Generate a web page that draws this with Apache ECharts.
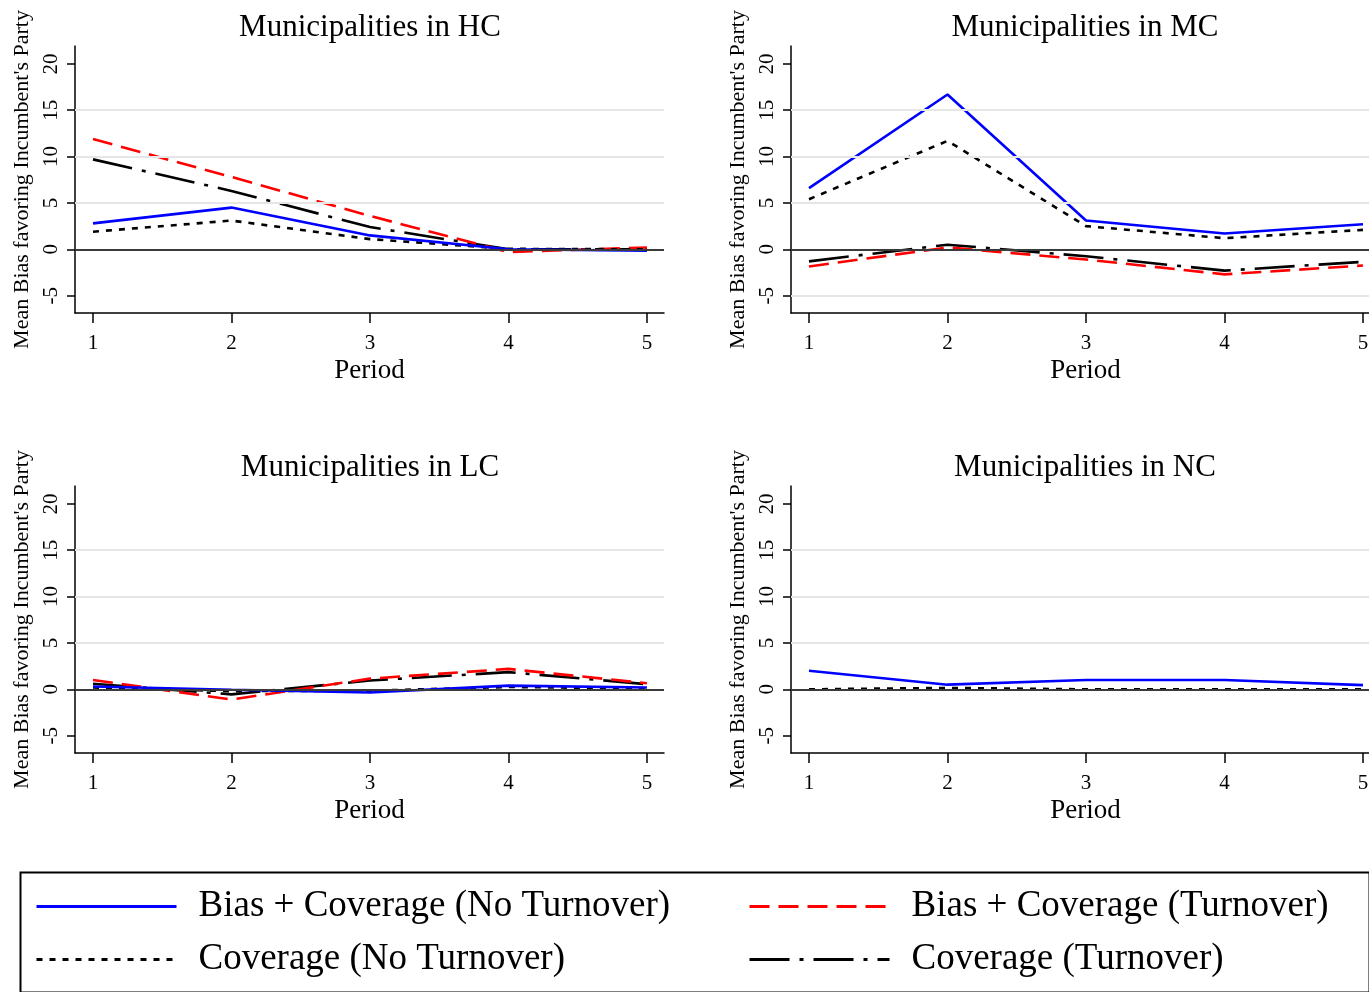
<!DOCTYPE html>
<html>
<head>
<meta charset="utf-8">
<script src="https://cdn.jsdelivr.net/npm/echarts@6/dist/echarts.min.js"></script>
<style>
html,body{margin:0;padding:0;background:#fff;}
#chart{width:1369px;height:992px;}
</style>
</head>
<body>
<div id="chart"></div>
<script>
// ---- data ----
const periods = [1, 2, 3, 4, 5];
const yTicks = [-5, 0, 5, 10, 15, 20];
const panelTitles = ['Municipalities in HC', 'Municipalities in MC', 'Municipalities in LC', 'Municipalities in NC'];
const seriesNames = ['Bias + Coverage (No Turnover)', 'Bias + Coverage (Turnover)', 'Coverage (No Turnover)', 'Coverage (Turnover)'];

// HC
const biasNoTurnHC = [2.8, 4.5, 1.5, 0.0, -0.15];
const biasTurnHC   = [11.9, 7.8, 3.6, -0.3, 0.2];
const covNoTurnHC  = [1.9, 3.1, 1.1, 0.05, 0.0];
const covTurnHC    = [9.7, 6.3, 2.4, 0.0, 0.0];
// MC
const biasNoTurnMC = [6.6, 16.7, 3.1, 1.7, 2.7];
const biasTurnMC   = [-1.85, 0.2, -1.1, -2.7, -1.75];
const covNoTurnMC  = [5.4, 11.7, 2.5, 1.2, 2.1];
const covTurnMC    = [-1.3, 0.5, -0.75, -2.3, -1.35];
// LC
const biasNoTurnLC = [0.3, -0.05, -0.35, 0.4, 0.2];
const biasTurnLC   = [1.0, -1.1, 1.15, 2.2, 0.65];
const covNoTurnLC  = [0.2, -0.2, -0.15, 0.25, 0.1];
const covTurnLC    = [0.6, -0.55, 0.95, 1.85, 0.55];
// NC (no turnover series shown)
const biasNoTurnNC = [2.0, 0.5, 1.0, 1.0, 0.45];
const biasTurnNC   = [null, null, null, null, null];
const covNoTurnNC  = [0.0, 0.15, 0.0, 0.0, 0.0];
const covTurnNC    = [null, null, null, null, null];

// horizontal reference lines per panel
const gridValuesHC = [5, 10, 15];
const gridValuesMC = [-5, 5, 10, 15];
const gridValuesLC = [5, 10, 15];
const gridValuesNC = [5, 10, 15];

// ---- layout ----
const FONT = '"Liberation Serif", "Times New Roman", serif';
const panels = [
  {left: 75, top: 46, title: panelTitles[0], cx: 370, ty: 12,  d: [biasNoTurnHC, biasTurnHC, covNoTurnHC, covTurnHC], g: gridValuesHC},
  {left: 791, top: 46, title: panelTitles[1], cx: 1085, ty: 12, d: [biasNoTurnMC, biasTurnMC, covNoTurnMC, covTurnMC], g: gridValuesMC},
  {left: 75, top: 486, title: panelTitles[2], cx: 370, ty: 452, d: [biasNoTurnLC, biasTurnLC, covNoTurnLC, covTurnLC], g: gridValuesLC},
  {left: 791, top: 486, title: panelTitles[3], cx: 1085, ty: 452, d: [biasNoTurnNC, biasTurnNC, covNoTurnNC, covTurnNC], g: gridValuesNC}
];
const styles = [
  {color: '#0000ff', width: 2.6, type: 'solid'},
  {color: '#ff0000', width: 2.6, type: [20, 9]},
  {color: '#000000', width: 2.6, type: [6, 7]},
  {color: '#000000', width: 2.6, type: [40, 10, 4, 10]}
];
const drawOrder = [3, 1, 2, 0];

const grids = [], xAxes = [], yAxes = [], titles = [], series = [];
panels.forEach((p, i) => {
  grids.push({left: p.left, top: p.top, width: 589, height: 267, outerBoundsMode: 'none', containLabel: false});
  titles.push({text: p.title, left: p.cx, top: p.ty, textAlign: 'center', padding: 0,
    textStyle: {fontFamily: FONT, fontSize: 31, fontWeight: 'normal', color: '#000'}});
  xAxes.push({
    type: 'value', gridIndex: i, min: 0.87, max: 5.123,
    name: 'Period', nameLocation: 'middle', nameGap: 44,
    nameTextStyle: {fontFamily: FONT, fontSize: 27, color: '#000'},
    axisLine: {onZero: false, lineStyle: {color: '#000', width: 1.5}},
    axisTick: {customValues: periods, length: 10, lineStyle: {color: '#000', width: 1.5}},
    axisLabel: {customValues: periods, margin: 20, fontFamily: FONT, fontSize: 21, color: '#000'},
    splitLine: {show: false}
  });
  yAxes.push({
    type: 'value', gridIndex: i, min: -6.87, max: 21.93,
    name: "Mean Bias favoring Incumbent's Party", nameLocation: 'middle', nameGap: 42, nameRotate: 90,
    nameTextStyle: {fontFamily: FONT, fontSize: 22, color: '#000'},
    axisLine: {show: true, lineStyle: {color: '#000', width: 1.5}},
    axisTick: {show: true, customValues: yTicks, length: 8, lineStyle: {color: '#000', width: 1.5}},
    axisLabel: {customValues: yTicks, rotate: 90, margin: 13, fontFamily: FONT, fontSize: 21, color: '#000'},
    splitLine: {show: false}
  });
  series.push({
    type: 'line', name: 'ref' + i, xAxisIndex: i, yAxisIndex: i, data: [], z: 1, silent: true,
    markLine: {
      silent: true, symbol: 'none', label: {show: false}, animation: false,
      data: p.g.map(v => ({yAxis: v, lineStyle: {color: '#e6e6e6', width: 2, type: 'solid'}}))
        .concat([{yAxis: 0, lineStyle: {color: '#3a3a3a', width: 2, type: 'solid'}}])
    }
  });
  drawOrder.forEach(k => {
    series.push({
      type: 'line', name: seriesNames[k], xAxisIndex: i, yAxisIndex: i, z: 3,
      data: periods.map((x, j) => [x, p.d[k][j]]),
      showSymbol: false, symbol: 'none', connectNulls: false,
      color: styles[k].color,
      lineStyle: {color: styles[k].color, width: styles[k].width, type: styles[k].type}
    });
  });
});

const legendBase = {
  orient: 'horizontal', padding: 0, itemWidth: 140, itemHeight: 40, itemGap: 0,
  itemStyle: {opacity: 0, borderWidth: 0},
  lineStyle: {width: 3},
  textStyle: {fontFamily: FONT, fontSize: 37, color: '#000', padding: [8, 0, 0, 17]}
};
const legends = [
  Object.assign({}, legendBase, {data: [seriesNames[0]], left: 35, top: 888}),
  Object.assign({}, legendBase, {data: [seriesNames[1]], left: 748, top: 888}),
  Object.assign({}, legendBase, {data: [seriesNames[2]], left: 35, top: 941}),
  Object.assign({}, legendBase, {data: [seriesNames[3]], left: 748, top: 941})
];

const chart = echarts.init(document.getElementById('chart'), null, {renderer: 'canvas'});
chart.setOption({
  animation: false,
  backgroundColor: '#ffffff',
  title: titles,
  grid: grids,
  xAxis: xAxes,
  yAxis: yAxes,
  legend: legends,
  series: series,
  graphic: [{
    type: 'rect', left: 18, top: 870, z: 0,
    shape: {width: 1349, height: 120},
    style: {fill: 'none', stroke: '#000', lineWidth: 2}
  }]
});
</script>
</body>
</html>
